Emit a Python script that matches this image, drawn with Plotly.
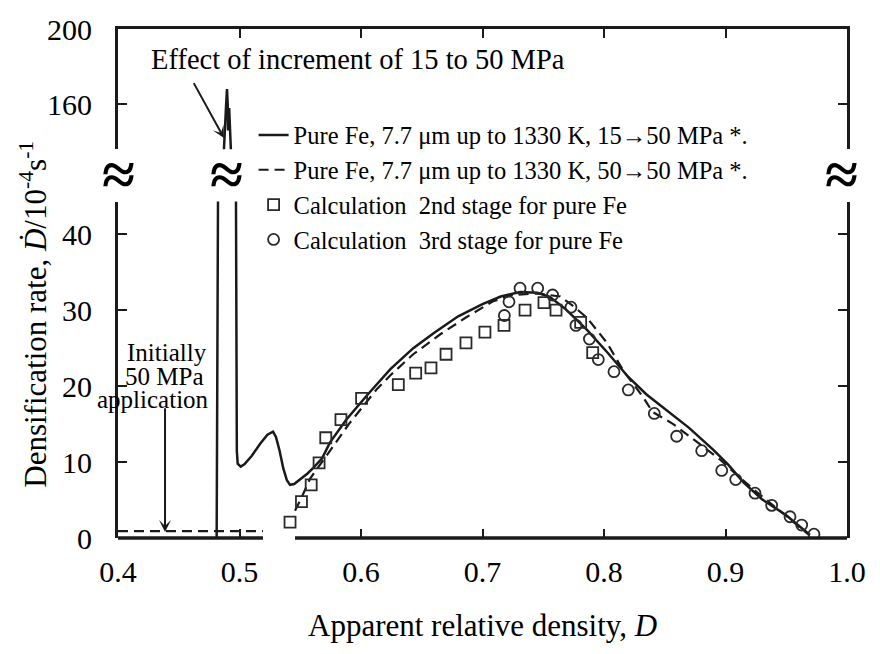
import plotly.graph_objects as go

# ---------------- data ----------------
# experimental curve, 15 -> 50 MPa (solid)
solid_D = [0.4812, 0.4823, 0.4872, 0.4880, 0.4890, 0.4897, 0.4903, 0.4906, 0.4910,
           0.4915, 0.4920, 0.4936, 0.4971, 0.4978, 0.4985, 0.5010, 0.5040, 0.5100,
           0.5170, 0.5230, 0.5276, 0.5300, 0.5330, 0.5360, 0.5390, 0.5416, 0.5450,
           0.5500, 0.5560, 0.5605, 0.5680, 0.5745, 0.5880, 0.6050, 0.6240, 0.6430,
           0.6600, 0.6800, 0.7000, 0.7150, 0.7310, 0.7450, 0.7550, 0.7680, 0.7860,
           0.8030, 0.8200, 0.8350, 0.8500, 0.8700, 0.8900, 0.9020, 0.9150, 0.9300,
           0.9500, 0.9695]
solid_rate = [0.0, 44.3, 136.0, 150.0, 160.0, 168.0, 160.0, 146.0, 152.0,
              158.0, 150.0, 136.0, 44.3, 11.5, 9.8, 9.4, 9.7, 10.8,
              12.4, 13.6, 14.0, 13.3, 11.5, 9.2, 7.6, 7.0, 7.1,
              7.7, 8.5, 9.2, 10.5, 12.6, 15.6, 18.8, 22.2, 25.0,
              27.0, 29.2, 30.8, 31.8, 32.4, 32.3, 31.8, 30.2, 27.4,
              24.4, 21.2, 18.9, 17.0, 14.5, 11.6, 9.7, 7.3, 5.1,
              3.0, 0.4]

# experimental curve, 50 -> 50 MPa (dashed)
dash_D = [0.400, 0.5193, None, 0.5457, 0.551, 0.558, 0.565, 0.575, 0.590, 0.600,
          0.613, 0.624, 0.643, 0.665, 0.687, 0.709, 0.725, 0.745, 0.764, 0.775,
          0.786, 0.8025, 0.816, 0.832, 0.840, 0.857, 0.876, 0.895, 0.910, 0.926,
          0.950, 0.968]
dash_rate = [0.9, 0.9, None, 3.6, 5.3, 7.8, 9.3, 11.6, 15.0, 17.0,
             19.6, 21.4, 24.2, 26.8, 29.1, 31.2, 32.0, 32.2, 31.8, 30.5,
             29.0, 25.7, 22.0, 18.6, 16.6, 15.0, 12.7, 10.4, 8.2, 6.0,
             2.9, 0.5]

# calculation, 2nd stage (squares)
sq_D = [0.5416, 0.551, 0.559, 0.5655, 0.571, 0.5835, 0.6005, 0.6307, 0.645,
        0.6576, 0.670, 0.6864, 0.702, 0.7177, 0.735, 0.7506, 0.7605, 0.7808, 0.7907]
sq_rate = [2.1, 4.8, 7.0, 9.9, 13.2, 15.6, 18.4, 20.2, 21.7,
           22.4, 24.2, 25.7, 27.1, 28.0, 30.0, 31.0, 30.0, 28.4, 24.4]

# calculation, 3rd stage (circles)
ci_D = [0.718, 0.7218, 0.7309, 0.7454, 0.7577, 0.7728, 0.7769, 0.788, 0.7953,
        0.8082, 0.820, 0.8414, 0.8598, 0.8804, 0.8969, 0.9084, 0.9243, 0.938,
        0.9531, 0.9627, 0.9728]
ci_rate = [29.3, 31.1, 32.9, 32.9, 32.0, 30.4, 28.0, 26.2, 23.5,
           21.9, 19.5, 16.4, 13.4, 11.5, 8.9, 7.7, 5.9, 4.3,
           2.8, 1.7, 0.5]

x_ticks = [0.4, 0.5, 0.6, 0.7, 0.8, 0.9, 1.0]
x_ticktext = ["0.4", "0.5", "0.6", "0.7", "0.8", "0.9", "1.0"]
y_low_ticks = [0, 10, 20, 30, 40]
y_high_ticks = [160, 200]

names = ["Pure Fe, 7.7 \u03bcm up to 1330 K, 15\u219250 MPa *.",
         "Pure Fe, 7.7 \u03bcm up to 1330 K, 50\u219250 MPa *.",
         "Calculation\u00a0 2nd stage for pure Fe",
         "Calculation\u00a0 3rd stage for pure Fe"]

# ---------------- figure ----------------
FONT = "Liberation Serif"
INK = "#1a1a1a"
X_RANGE = [0.4, 1.0]
LOW_RANGE = [0, 44.3]
HIGH_RANGE = [136, 200]
LOW_DOMAIN = [0, 0.6609]
HIGH_DOMAIN = [0.7636, 1.0]
X_GAP = [0.5193, 0.5457]   # the bottom axis line is interrupted here


def xpaper(d):
    return (d - X_RANGE[0]) / (X_RANGE[1] - X_RANGE[0])


fig = go.Figure()
fig.add_trace(go.Scatter(x=solid_D, y=solid_rate, mode="lines", name=names[0],
                         line=dict(color=INK, width=2.5), xaxis="x", yaxis="y"))
fig.add_trace(go.Scatter(x=dash_D, y=dash_rate, mode="lines", name=names[1],
                         connectgaps=False,
                         line=dict(color=INK, width=2.2, dash="10px,6px"), xaxis="x", yaxis="y"))
fig.add_trace(go.Scatter(x=sq_D, y=sq_rate, mode="markers", name=names[2],
                         marker=dict(symbol="square-open", size=11, color="#2a2a2a",
                                     line=dict(width=1.8)), xaxis="x", yaxis="y"))
fig.add_trace(go.Scatter(x=ci_D, y=ci_rate, mode="markers", name=names[3],
                         marker=dict(symbol="circle-open", size=11, color="#2a2a2a",
                                     line=dict(width=1.8)), xaxis="x", yaxis="y"))
# same solid curve seen through the upper (broken) axis
fig.add_trace(go.Scatter(x=solid_D, y=solid_rate, mode="lines", showlegend=False,
                         line=dict(color=INK, width=2.5), xaxis="x2", yaxis="y2"))

axis_common = dict(ticks="inside", ticklen=9, tickwidth=2, tickcolor=INK,
                   linecolor=INK, linewidth=3, showgrid=False, zeroline=False,
                   tickfont=dict(family=FONT, size=30, color="black"))

fig.update_layout(
    width=880, height=654,
    margin=dict(l=118, r=33, t=22, b=116),
    paper_bgcolor="white", plot_bgcolor="white",
    font=dict(family=FONT, color="black"),
    xaxis=dict(**axis_common, range=X_RANGE, tickvals=x_ticks, ticktext=x_ticktext,
               showline=False, anchor="y", ticklabelstandoff=13),
    xaxis2=dict(**axis_common, range=X_RANGE, tickvals=x_ticks, matches="x",
                showline=True, anchor="y2", side="top", showticklabels=False),
    yaxis=dict(**axis_common, range=LOW_RANGE, tickvals=y_low_ticks, domain=LOW_DOMAIN,
               showline=True, mirror="ticks", anchor="x", ticklabelstandoff=17),
    yaxis2=dict(**axis_common, range=HIGH_RANGE, tickvals=y_high_ticks, domain=HIGH_DOMAIN,
                showline=True, mirror="ticks", anchor="x2", ticklabelstandoff=17),
    legend=dict(x=0.186, y=0.836, xanchor="left", yanchor="top",
                bgcolor="rgba(0,0,0,0)", borderwidth=0, tracegroupgap=0,
                font=dict(family=FONT, size=24.5, color="black")),
    showlegend=True,
)

# bottom axis line, interrupted between X_GAP values
for a, b in [(X_RANGE[0], X_GAP[0]), (X_GAP[1], X_RANGE[1])]:
    fig.add_shape(type="line", xref="paper", yref="paper",
                  x0=xpaper(a), x1=xpaper(b), y0=0, y1=0,
                  line=dict(color=INK, width=3.5), layer="above")

ann = []
# axis titles
ann.append(dict(text="Apparent relative density, <i>D</i>", xref="paper", yref="paper",
                x=0.5, y=-0.172, showarrow=False, xanchor="center", yanchor="middle",
                font=dict(family=FONT, size=31, color="black")))
ann.append(dict(text="Densification rate, <i>\u1e0a</i>/10<sup>-4</sup>s<sup>-1</sup>",
                xref="paper", yref="paper", x=-0.117, y=0.44, textangle=-90,
                showarrow=False, xanchor="center", yanchor="middle",
                font=dict(family=FONT, size=31, color="black")))
# break marks
for xr, xv in [("paper", 0.0), ("x", 0.4897), ("paper", 0.992)]:
    ann.append(dict(text="<b>\u2248</b>", xref=xr, yref="paper", x=xv, y=0.714,
                    showarrow=False, xanchor="center", yanchor="middle",
                    font=dict(family=FONT, size=60, color="black")))
# annotations with arrows
ann.append(dict(text="Effect of increment of 15 to 50 MPa", xref="x2", yref="y2",
                x=0.5975, y=184.0, showarrow=False, xanchor="center", yanchor="middle",
                font=dict(family=FONT, size=28.5, color="black")))
ann.append(dict(text="", xref="x2", yref="y2", x=0.4872, y=142, ax=0.4617, ay=172,
                axref="x2", ayref="y2", showarrow=True, arrowhead=3, arrowsize=1,
                arrowwidth=2, arrowcolor=INK))
for txt, xv, yv in [("Initially", 0.4403, 24.4), ("50 MPa", 0.4379, 21.3),
                    ("application", 0.4288, 18.2)]:
    ann.append(dict(text=txt, xref="x", yref="y", x=xv, y=yv, showarrow=False,
                    xanchor="center", yanchor="middle",
                    font=dict(family=FONT, size=25, color="black")))
ann.append(dict(text="", xref="x", yref="y", x=0.4387, y=0.8, ax=0.4387, ay=17.3,
                axref="x", ayref="y", showarrow=True, arrowhead=3, arrowsize=1,
                arrowwidth=2, arrowcolor=INK))
fig.update_layout(annotations=ann)

fig.write_html("out.html")
